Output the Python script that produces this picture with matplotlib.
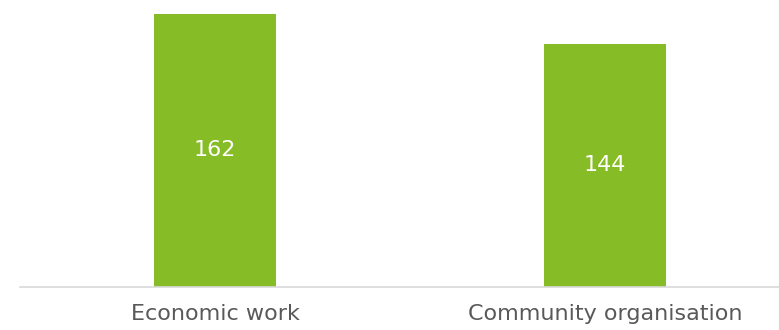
import matplotlib.pyplot as plt

categories = ["Economic work", "Community organisation"]
values = [162, 144]

bar_color = "#86BC25"
text_color = "#595959"

fig = plt.figure(figsize=(7.79, 3.30), dpi=100)
# axes runs past the right edge, like the original
ax = fig.add_axes([20 / 779, 43 / 330, 780 / 779, 287 / 330])

x = range(len(categories))
bars = ax.bar(x, values, width=0.315, color=bar_color)
ax.bar_label(bars, labels=[str(v) for v in values], label_type="center",
             color="white", fontsize=16)

ax.set_xlim(-0.5, 1.5)
ax.set_ylim(0, 170)
ax.set_xticks(list(x))
ax.set_xticklabels(categories, fontsize=16, color=text_color)
ax.tick_params(axis="x", length=0, pad=12)
ax.set_yticks([])

for s in ["top", "right", "left"]:
    ax.spines[s].set_visible(False)
ax.spines["bottom"].set_color("#D9D9D9")
ax.spines["bottom"].set_linewidth(1.2)

fig.savefig("out.png", dpi=100)
